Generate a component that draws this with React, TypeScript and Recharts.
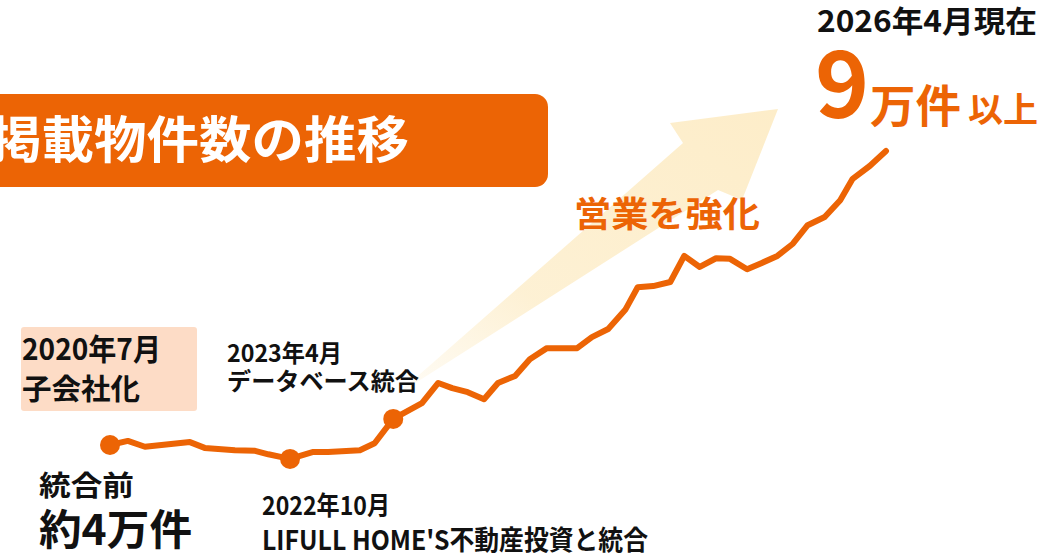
import React from 'react';
import { LineChart, Line, XAxis, YAxis } from 'recharts';

// position along the illustrated timeline (0 = 2020/7, 100 = 2026/4)
const steps = [
  0, 2.3, 4.5, 10.3, 12.2, 16.1, 18.7, 20.4, 23.2, 26.2, 28.1, 32.2, 34.1, 36.5, 40.2, 42.3, 44.1,
  46.1, 48.2, 50.0, 52.2, 54.1, 56.3, 60.2, 62.1, 64.2, 66.4, 68.0, 70.0, 72.2, 74.0, 76.0, 78.1,
  79.9, 82.1, 84.0, 86.0, 88.0, 89.9, 92.1, 94.1, 95.7, 97.9, 100,
];
// listings (万件)
const listings = [
  4.0, 4.07, 3.97, 4.05, 3.95, 3.91, 3.9, 3.84, 3.76, 3.88, 3.88, 3.91, 4.03, 4.45, 4.72, 5.07, 4.98,
  4.91, 4.79, 5.07, 5.19, 5.48, 5.67, 5.67, 5.86, 6.0, 6.33, 6.72, 6.74, 6.81, 7.26, 7.07, 7.22,
  7.21, 7.03, 7.14, 7.26, 7.47, 7.79, 7.93, 8.22, 8.59, 8.81, 9.07,
];
// 2020/7 子会社化, 2022/10 統合, 2023/4 データベース統合
const milestones = [0, 8, 13];

const ORANGE = '#EC6405';
const FONT = '"Noto Sans CJK JP", "Noto Sans", sans-serif';

const data = steps.map((t, i) => ({ t, v: listings[i] }));

const MilestoneDot = (props: any) => {
  const { cx, cy, index } = props;
  if (!milestones.includes(index)) return <g key={`d-${index}`} />;
  return <circle key={`d-${index}`} cx={cx} cy={cy} r={10} fill={ORANGE} />;
};

const Label = ({ x, y, size, w, color = '#111', children }: any) => (
  <text
    x={x}
    y={y}
    fontFamily={FONT}
    fontWeight={700}
    fontSize={size}
    fill={color}
    textLength={w}
    lengthAdjust="spacingAndGlyphs"
  >
    {children}
  </text>
);

const Backdrop = () => (
  <svg width={1063} height={554} style={{ position: 'absolute', left: 0, top: 0 }}>
    <defs>
      <linearGradient id="arrowFade" x1="0" y1="1" x2="1" y2="0">
        <stop offset="0%" stopColor="#FDEFCF" stopOpacity={0.15} />
        <stop offset="35%" stopColor="#FDEFCF" stopOpacity={0.9} />
        <stop offset="100%" stopColor="#FDEDC9" stopOpacity={1} />
      </linearGradient>
    </defs>
    <polygon points="395,396 683,143 670,123 778,109 742,200 718,190" fill="url(#arrowFade)" />
    <rect x={-20} y={94} width={568} height={93} rx={13} fill={ORANGE} />
    <Label x={-11} y={158} size={50} w={420} color="#fff">掲載物件数の推移</Label>

    <Label x={817} y={32} size={30} w={220}>2026年4月現在</Label>
    <text x={815} y={118} fontFamily={FONT} fontWeight={700} fontSize={92} fill={ORANGE}>
      9
    </text>
    <Label x={870} y={123} size={45} w={91} color={ORANGE}>万件</Label>
    <Label x={968} y={122} size={34} w={70} color={ORANGE}>以上</Label>

    <Label x={574} y={227} size={35} w={186} color={ORANGE}>営業を強化</Label>

    <rect x={21} y={327} width={176} height={84} rx={3} fill="#FDDCC6" />
    <Label x={22} y={360} size={30} w={139}>2020年7月</Label>
    <Label x={22} y={400} size={29} w={118}>子会社化</Label>

    <Label x={227} y={362} size={24} w={115}>2023年4月</Label>
    <Label x={227} y={390} size={24} w={192}>データベース統合</Label>

    <Label x={39} y={496} size={28} w={95}>統合前</Label>
    <Label x={39} y={545} size={42} w={153}>約4万件</Label>

    <Label x={262} y={515} size={26} w={128}>2022年10月</Label>
    <Label x={262} y={550} size={27} w={386}>LIFULL HOME'S不動産投資と統合</Label>
  </svg>
);

export default function App() {
  return (
    <div
      style={{
        position: 'absolute',
        left: 0,
        top: 0,
        width: 1063,
        height: 554,
        overflow: 'hidden',
        background: '#fff',
      }}
    >
      <Backdrop />
      <LineChart
        width={1063}
        height={554}
        data={data}
        margin={{ top: 39, right: 177, bottom: 51, left: 110 }}
        style={{ position: 'absolute', left: 0, top: 0 }}
      >
        <XAxis type="number" dataKey="t" domain={[0, 100]} hide />
        <YAxis type="number" domain={[3, 11]} hide />
        <Line
          type="linear"
          dataKey="v"
          stroke={ORANGE}
          strokeWidth={6}
          strokeLinejoin="round"
          strokeLinecap="round"
          dot={MilestoneDot}
          activeDot={false}
          isAnimationActive={false}
        />
      </LineChart>
    </div>
  );
}
